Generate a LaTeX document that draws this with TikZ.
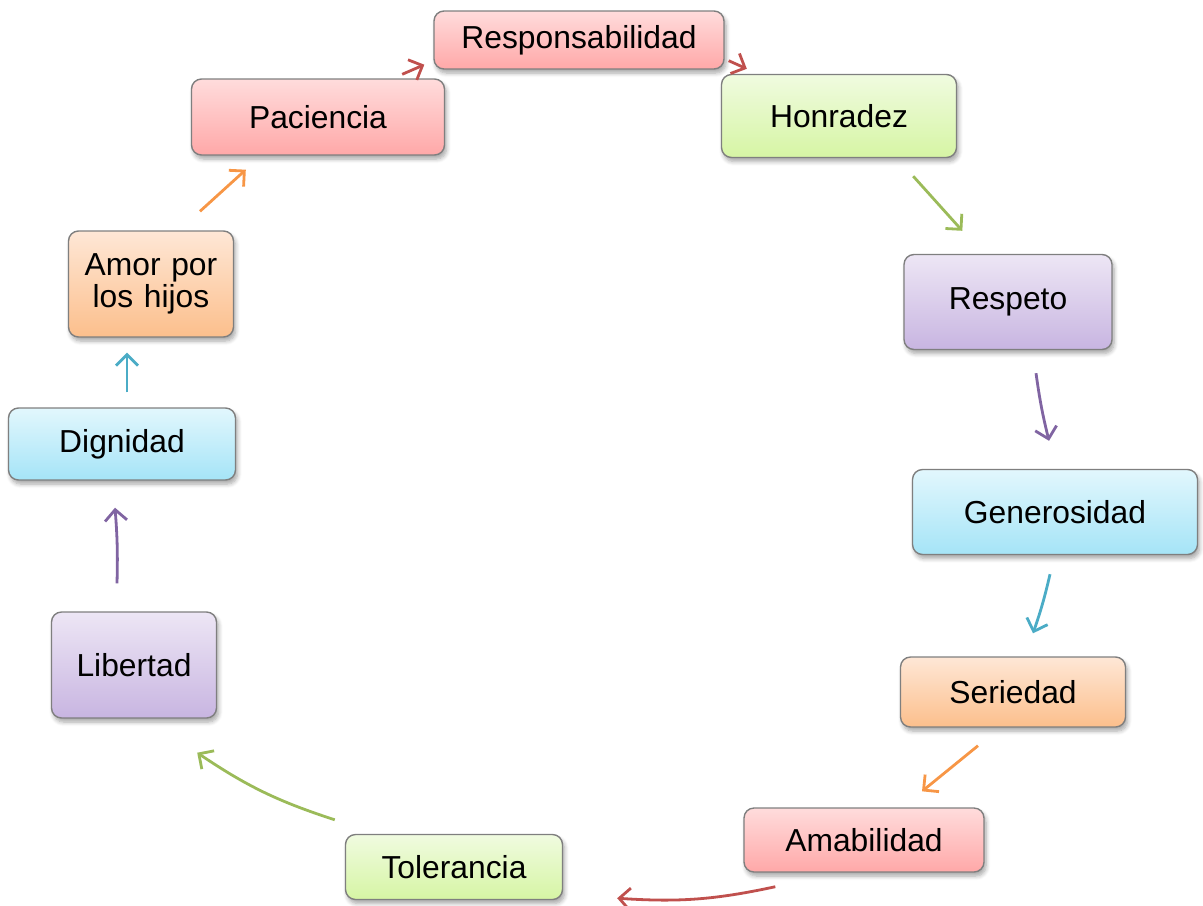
\documentclass[tikz,border=0pt]{standalone}
\usepackage{fontspec}
\setmainfont{Liberation Sans}
\usetikzlibrary{shadows.blur}
\usetikzlibrary{arrows.meta}
\definecolor{rojoA}{HTML}{FFDCDC}
\definecolor{rojoB}{HTML}{FFA8A8}
\definecolor{verdeA}{HTML}{F0FBE0}
\definecolor{verdeB}{HTML}{D6F5A4}
\definecolor{moradoA}{HTML}{EDE6F5}
\definecolor{moradoB}{HTML}{C8B5E1}
\definecolor{azulA}{HTML}{E2F7FD}
\definecolor{azulB}{HTML}{A5E4F7}
\definecolor{naranjaA}{HTML}{FEE7D6}
\definecolor{naranjaB}{HTML}{FCBF8C}
\definecolor{linrojo}{HTML}{C0504D}
\definecolor{linverde}{HTML}{9BBB59}
\definecolor{linmorado}{HTML}{8064A2}
\definecolor{linazul}{HTML}{4BACC6}
\definecolor{linnaranja}{HTML}{F79646}
\definecolor{borde}{HTML}{7F7F7F}

\begin{document}
\begin{tikzpicture}[x=0.5pt, y=-0.5pt,
valor/.style = {shape=rectangle, rounded corners=5pt, draw=borde, line width=0.7pt,
  align=center, inner sep=2pt, font=\fontsize{15.9}{16.3}\selectfont,
  blur shadow={shadow xshift=1pt, shadow yshift=-2pt, shadow blur steps=6, shadow opacity=35}},
rojo/.style = {valor, top color=rojoA, bottom color=rojoB},
verde/.style = {valor, top color=verdeA, bottom color=verdeB},
morado/.style = {valor, top color=moradoA, bottom color=moradoB},
azul/.style = {valor, top color=azulA, bottom color=azulB},
naranja/.style = {valor, top color=naranjaA, bottom color=naranjaB},
flecha/.style = {line width=1.4pt, -{Straight Barb[length=5.5pt, width=11pt, line width=1.4pt]}}
]
\useasboundingbox (0,0) rectangle (1203,905);

\node (res) [rojo, minimum width=145pt, minimum height=29pt] at (579,40) {Responsabilidad};
\node (pac) [rojo, minimum width=126.5pt, minimum height=38pt] at (318,117) {Paciencia};
\node (hon) [verde, minimum width=117.5pt, minimum height=41.5pt] at (839,116) {Honradez};
\node (resp) [morado, minimum width=104pt, minimum height=47.5pt] at (1008,302) {Respeto};
\node (gen) [azul, minimum width=142.5pt, minimum height=42.5pt] at (1055,512) {Generosidad};
\node (ser) [naranja, minimum width=112.5pt, minimum height=35pt] at (1013,692) {Seriedad};
\node (amab) [rojo, minimum width=120pt, minimum height=32pt] at (864,840) {Amabilidad};
\node (tol) [verde, minimum width=108.5pt, minimum height=32.5pt] at (454,867) {Tolerancia};
\node (lib) [morado, minimum width=82.5pt, minimum height=53pt] at (134,665) {Libertad};
\node (dig) [azul, minimum width=113.5pt, minimum height=36pt] at (122,444) {Dignidad};
\node (amor) [naranja, minimum width=82.5pt, minimum height=53pt, text width=76pt] at (151,284) {Amor por\\los hijos};

% flechas entre valores
\draw [flecha, linrojo] ([shift={(-43,-4)}]pac.north east) -- ([shift={(-9,-5)}]res.south west);
\draw [flecha, linrojo] ([shift={(4,-9)}]res.south east) -- ([shift={(26,-5)}]hon.north west);
\draw [flecha, linverde] ([shift={(-44,18)}]hon.south east) -- ([shift={(59,-23)}]resp.north west);
\draw [flecha, linmorado] ([shift={(28,23)}]resp.south) to[bend right=3] ([shift={(-6,-28)}]gen.north);
\draw [flecha, linazul] ([shift={(-5,19)}]gen.south) to[bend left=3] ([shift={(20,-23)}]ser.north);
\draw [flecha, linnaranja] ([shift={(-35,18)}]ser.south) -- ([shift={(58,-16)}]amab.north);
\draw [flecha, linrojo] ([shift={(32,14)}]amab.south west) to[bend left=8] ([shift={(54,-2)}]tol.south east);
\draw [flecha, linverde] ([shift={(-10,-14)}]tol.north west) to[bend left=8] ([shift={(-20,34)}]lib.south east);
\draw [flecha, linmorado] ([shift={(-17,-28)}]lib.north) to[bend right=3] ([shift={(-7,27)}]dig.south);
\draw [flecha, linazul] ([shift={(5,-15)}]dig.north) -- ([shift={(-24,15)}]amor.south);
\draw [flecha, linnaranja] ([shift={(49,-19)}]amor.north) -- ([shift={(55,14)}]pac.south west);

\end{tikzpicture}
\end{document}
